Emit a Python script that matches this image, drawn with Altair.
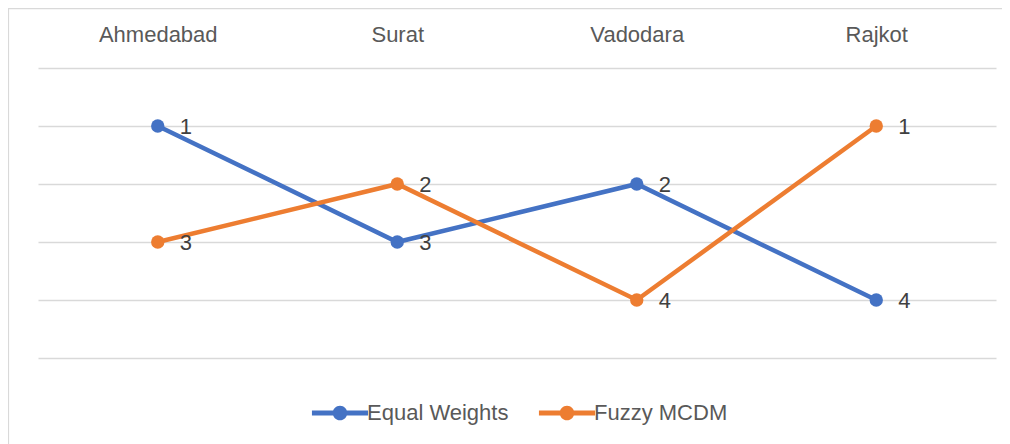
import altair as alt
import pandas as pd

cities = ["Ahmedabad", "Surat", "Vadodara", "Rajkot"]
equal_weights = [1, 3, 2, 4]
fuzzy_mcdm = [3, 2, 4, 1]
series_names = ["Equal Weights", "Fuzzy MCDM"]
series_colors = ["#4472C4", "#ED7D31"]

rows = []
for name, vals in zip(series_names, [equal_weights, fuzzy_mcdm]):
    for c, v in zip(cities, vals):
        rows.append({"City": c, "Rank": v, "Series": name})
df = pd.DataFrame(rows)

W, H = 958, 290
FONT = "Liberation Sans"

legend_symbol = ("M-1.5,-0.13 L1.5,-0.13 L1.5,0.13 L-1.5,0.13 Z "
                 "M-0.39,0 A0.39,0.39 0 1,1 0.39,0 A0.39,0.39 0 1,1 -0.39,0 Z")

x_enc = alt.X("City:N", sort=cities, title=None,
              scale=alt.Scale(paddingInner=0, paddingOuter=0.5),
              axis=alt.Axis(orient="top", labelAngle=0, domain=False, ticks=False,
                            tickSize=0, labelPadding=22, grid=False,
                            labelFontSize=22, labelColor="#595959", labelFont=FONT))
y_enc = alt.Y("Rank:Q", title=None,
              scale=alt.Scale(domain=[0, 5], reverse=True, nice=False),
              axis=alt.Axis(values=[0, 1, 2, 3, 4, 5], labels=False, ticks=False,
                            domain=False, grid=True, gridColor="#D9D9D9", gridWidth=1.5))
color_enc = alt.Color("Series:N", sort=series_names,
                      scale=alt.Scale(domain=series_names, range=series_colors),
                      legend=alt.Legend(orient="none", direction="horizontal",
                                        legendX=283, legendY=326, title=None,
                                        symbolType=legend_symbol, symbolSize=1400,
                                        symbolStrokeWidth=0, symbolOpacity=1,
                                        labelFontSize=22, labelColor="#595959",
                                        labelFont=FONT, labelOffset=8,
                                        columnPadding=29))

base = alt.Chart(df)

lines = base.mark_line(strokeWidth=4.5).encode(x=x_enc, y=y_enc, color=color_enc)
points = base.mark_point(filled=True, size=180, opacity=1).encode(
    x=x_enc, y=y_enc, color=alt.Color("Series:N", sort=series_names,
                                      scale=alt.Scale(domain=series_names, range=series_colors),
                                      legend=None))
labels = base.mark_text(align="left", baseline="middle", dx=22, dy=1,
                        fontSize=22, font=FONT, color="#404040").encode(
    x=x_enc, y=y_enc, text="Rank:Q")

border = alt.Chart(pd.DataFrame({"a": [0]})).mark_rect(
    fill=None, stroke="#D9D9D9", strokeWidth=1.2, clip=False).encode(
    x=alt.value(-29.5), x2=alt.value(W + 30),
    y=alt.value(-59.4), y2=alt.value(H + 100))

chart = alt.layer(border, lines, points, labels).properties(
    width=W, height=H,
    autosize=alt.AutoSizeParams(type="none"),
    padding={"left": 30, "top": 60, "right": 6, "bottom": 86},
).configure(background="white").configure_view(stroke=None)

chart.save("out.html", embed_options={"renderer": "svg", "actions": False})
